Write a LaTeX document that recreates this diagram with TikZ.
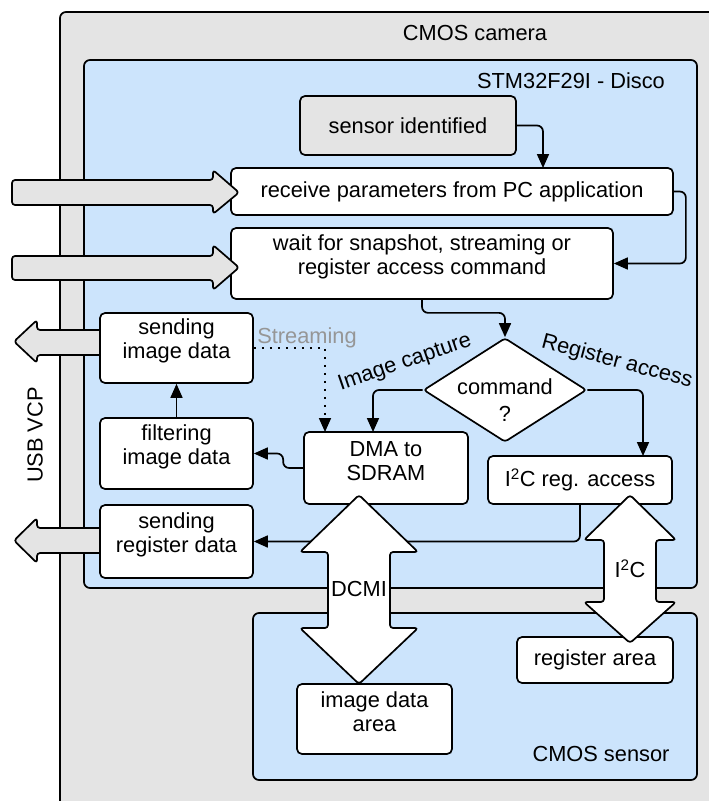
\documentclass[tikz,border=0pt]{standalone}
\usepackage{fontspec}
\setmainfont{Liberation Sans}
\usetikzlibrary{arrows.meta,shapes.geometric,calc}
\definecolor{cgray}{RGB}{228,228,228}
\definecolor{cblue}{RGB}{204,228,252}
\definecolor{cstream}{RGB}{150,150,150}
\begin{document}
\begin{tikzpicture}[x=1pt,y=-1pt,
  line width=1.7pt,
  every node/.style={font=\fontsize{21.8}{24}\selectfont},
  box/.style={draw=black, fill=white, rounded corners=5pt, line width=1.7pt, inner sep=0pt},
  graybox/.style={box, fill=cgray},
  txt/.style={align=center, inner sep=0pt},
  container/.style={draw=black, line width=1.7pt, rounded corners=6pt},
  conn/.style={draw=black, line width=1.7pt, rounded corners=6pt, -{Triangle[length=14pt,width=12pt]}},
  bigarrow/.style={draw=black, line width=1.7pt, rounded corners=3pt, line join=round},
]
\useasboundingbox (0,0) rectangle (709,801);
\clip (0,0) rectangle (709,801);

% containers
\draw[container, fill=cgray] (60,12) rectangle (760,860);
\node[txt] (tcam) at (475,33) {CMOS camera};
\draw[container, fill=cblue] (84,60) rectangle (697,588);
\node[txt] (tstm) at (571,81) {STM32F29I - Disco};
\draw[container, fill=cblue] (253,613) rectangle (697,780);
\node[txt] (tsen) at (601,754) {CMOS sensor};
\node[txt, rotate=90] (tusb) at (35,435) {USB VCP};

% output arrows (USB VCP)
\draw[bigarrow, fill=cgray] (110,330) -- (37,330) -- (37,320) -- (14,341.5) -- (37,363) -- (37,355) -- (110,355) -- cycle;
\draw[bigarrow, fill=cgray] (110,528) -- (37,528) -- (37,518) -- (14,540.5) -- (37,563) -- (37,553) -- (110,553) -- cycle;

% boxes
\node[graybox, minimum width=216pt, minimum height=59pt] (sid) at (408,125.5) {sensor identified};
\node[box, minimum width=442pt, minimum height=47pt] (rcv) at (452,191.5) {receive parameters from PC application};
\node[box, minimum width=382pt, minimum height=71pt] (wait) at (422,263.5) {};
\node[txt] (twait) at (422,256.5) {wait for snapshot, streaming or\\register access command};
\node[box, diamond, minimum width=163pt, minimum height=104pt, rounded corners=3pt] (cmd) at (505,390) {};
\node[txt, font=\fontsize{21.8}{27}\selectfont] (tcmd) at (505,400) {command\\?};
\node[box, minimum width=164pt, minimum height=72pt] (dma) at (386,468) {};
\node[txt] (tdma) at (386,461) {DMA to\\SDRAM};
\node[box, minimum width=184pt, minimum height=48pt] (i2c) at (580,480) {I\textsuperscript{2}C reg. access};
\node[box, minimum width=153pt, minimum height=70pt] (simg) at (176.5,348) {};
\node[txt] (tsimg) at (176.5,341) {sending\\image data};
\node[box, minimum width=153pt, minimum height=71pt] (filt) at (176.5,453.5) {};
\node[txt] (tfilt) at (176.5,447) {filtering\\image data};
\node[box, minimum width=153pt, minimum height=73pt] (sreg) at (176.5,541.5) {};
\node[txt] (tsreg) at (176.5,535) {sending\\register data};
\node[box, minimum width=155pt, minimum height=70pt] (ida) at (374.5,719) {};
\node[txt] (tida) at (374.5,712) {image data\\area};
\node[box, minimum width=156pt, minimum height=46pt] (rga) at (595,660) {register area};

% bend points on box edges
\coordinate (b1) at (543,168);
\coordinate (b2) at (373,432);
\coordinate (b3) at (643,456);
\coordinate (b4) at (325,432);

% connectors
\draw[conn] (sid.east) -| (b1);
\draw[conn] (rcv.east) -- ++(12,0) |- (wait.east);
\draw[conn] (wait.south) -- ++(0,13) -| (cmd.north);
\draw[conn] (cmd.west) -| (b2);
\draw[conn] (cmd.east) -| (b3);
\draw[conn, rounded corners=0pt, dash pattern=on 2pt off 6pt] (simg.east |- 0,348) -| (b4);
\draw[conn] (filt.north) -- (simg.south);
\draw[conn] (dma.west) -- ++(-20,0) |- (filt.east);
\draw[conn] (i2c.south) |- (sreg.east);

% labels
\node[txt, text=cstream] (tstream) at (307,338) {Streaming};
\node[txt, rotate=19] (timg) at (405,363) {Image capture};
\node[txt, rotate=-15] (treg) at (617,362) {Register access};

% input arrows
\draw[bigarrow, fill=cgray] (12,180) -- (213,180) -- (213,170) -- (239,192.5) -- (213,214) -- (213,205) -- (12,205) -- cycle;
\draw[bigarrow, fill=cgray] (12,256) -- (213,256) -- (213,245) -- (239,267.5) -- (213,290) -- (213,280) -- (12,280) -- cycle;

% DCMI double arrow
\draw[bigarrow, fill=white] (359,495) -- (418,552) -- (390,552) -- (390,628) -- (418,628) -- (359,684) -- (300,628) -- (328,628) -- (328,552) -- (300,552) -- cycle;
\node[txt] (tdcmi) at (359,589) {DCMI};
% I2C double arrow
\draw[bigarrow, fill=white] (630,495) -- (676,540) -- (656,540) -- (656,602) -- (676,602) -- (630,643) -- (584,602) -- (604,602) -- (604,540) -- (584,540) -- cycle;
\node[txt] (ti2c) at (630,569) {I\textsuperscript{2}C};
\end{tikzpicture}
\end{document}
